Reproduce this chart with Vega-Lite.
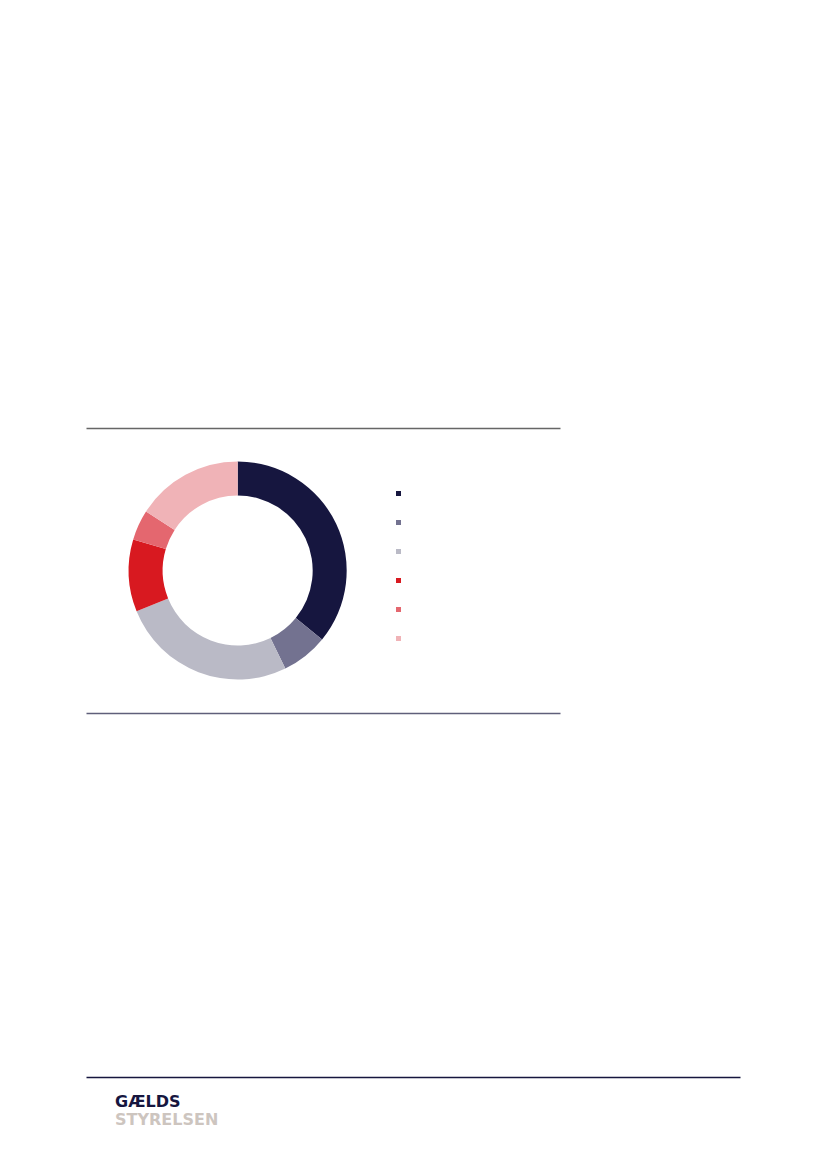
{
  "$schema": "https://vega.github.io/schema/vega-lite/v6.json",
  "background": "white",
  "padding": {"left": 83, "top": 428, "right": 86, "bottom": 40},
  "autosize": {"type": "pad"},
  "config": {
    "view": {"stroke": null},
    "font": "Lato"
  },
  "spacing": 361,
  "vconcat": [
    {
      "width": 474,
      "height": 285,
      "data": {
        "values": [
          {"nr": 1, "kategori": "Kategori 1", "andel": 35.9},
          {"nr": 2, "kategori": "Kategori 2", "andel": 6.9},
          {"nr": 3, "kategori": "Kategori 3", "andel": 26.1},
          {"nr": 4, "kategori": "Kategori 4", "andel": 10.7},
          {"nr": 5, "kategori": "Kategori 5", "andel": 4.5},
          {"nr": 6, "kategori": "Kategori 6", "andel": 15.9}
        ]
      },
      "layer": [
        {
          "mark": {"type": "arc", "outerRadius": 109, "innerRadius": 75},
          "encoding": {
            "theta": {"field": "andel", "type": "quantitative", "stack": true},
            "order": {"field": "nr", "type": "ordinal"},
            "color": {
              "field": "kategori",
              "type": "nominal",
              "scale": {
                "domain": ["Kategori 1", "Kategori 2", "Kategori 3", "Kategori 4", "Kategori 5", "Kategori 6"],
                "range": ["#16163f", "#737290", "#babac6", "#d81920", "#e4676f", "#f0b3b7"]
              },
              "legend": {
                "orient": "none",
                "legendX": 310,
                "legendY": 63,
                "title": null,
                "symbolType": "square",
                "symbolSize": 25,
                "symbolStrokeWidth": 0,
                "symbolOpacity": 1,
                "labelExpr": "''",
                "labelFontSize": 5,
                "rowPadding": 23
              }
            },
            "x": {
              "datum": 0.32,
              "type": "quantitative",
              "scale": {"domain": [0, 1], "nice": false, "zero": false},
              "axis": {
                "orient": "bottom",
                "domainColor": "#5f5f7a",
                "domainWidth": 1.5,
                "ticks": false,
                "labels": false,
                "grid": false,
                "title": null
              }
            },
            "y": {
              "datum": 0.5,
              "type": "quantitative",
              "scale": {"domain": [0, 1], "nice": false, "zero": false},
              "axis": null
            }
          }
        },
        {
          "mark": {"type": "point", "opacity": 0},
          "encoding": {
            "x": {
              "datum": 0,
              "type": "quantitative",
              "axis": {
                "orient": "top",
                "domainColor": "#666666",
                "domainWidth": 1.5,
                "ticks": false,
                "labels": false,
                "grid": false,
                "title": null
              }
            }
          }
        }
      ],
      "resolve": {"axis": {"x": "independent"}}
    },
    {
      "width": 654,
      "height": 1,
      "data": {"values": [{"nr": 1}]},
      "title": {
        "text": "GÆLDS",
        "subtitle": "STYRELSEN",
        "orient": "bottom",
        "anchor": "start",
        "frame": "group",
        "offset": 14,
        "dx": 29,
        "font": "DejaVu Sans",
        "fontSize": 16,
        "fontWeight": "bold",
        "color": "#16163f",
        "subtitleFont": "DejaVu Sans",
        "subtitleFontSize": 16,
        "subtitleFontWeight": "bold",
        "subtitleColor": "#cdc5bf",
        "subtitlePadding": 2
      },
      "mark": {"type": "point", "opacity": 0},
      "encoding": {
        "x": {
          "datum": 0,
          "type": "quantitative",
          "scale": {"domain": [0, 1]},
          "axis": {
            "orient": "top",
            "domainColor": "#16163f",
            "domainWidth": 1.5,
            "ticks": false,
            "labels": false,
            "grid": false,
            "title": null
          }
        }
      }
    }
  ]
}
